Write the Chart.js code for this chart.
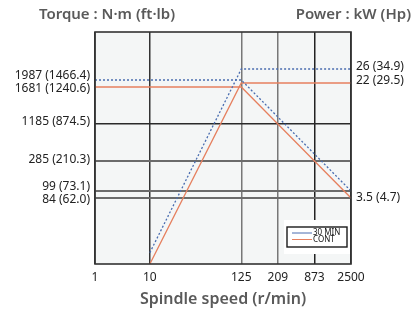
<!DOCTYPE html>
<html>
<head>
<meta charset="utf-8">
<script src="https://cdn.jsdelivr.net/npm/chart.js@4/dist/chart.umd.min.js"></script>
<style>
  html,body{margin:0;padding:0;background:#fff}
</style>
</head>
<body>
<canvas id="grafico" width="412" height="309"></canvas>
<script>
// rotacao do fuso (r/min)
const rotacoes = [1, 10, 125, 209, 873, 2500];
// torque: N·m e ft·lb
const torqueNm = [1987, 1681, 1185, 285, 99, 84];
const torqueFtLb = ['1466.4', '1240.6', '874.5', '210.3', '73.1', '62.0'];
// potencia: kW e Hp
const potenciaKw = [26, 22, 3.5];
const potenciaHp = ['34.9', '29.5', '4.7'];
// series [rpm, valor]
const torque30 = [[1, 1987], [125, 1987], [2500, 99]];
const potencia30 = [[10, 0.6], [125, 26], [2500, 26]];
const torqueCont = [[1, 1681], [125, 1681], [209, 1185], [873, 285], [2500, 84]];
const potenciaCont = [[10, 0], [125, 22], [2500, 22]];

// escala esquematica do desenho (nao e linear nem log)
const posX = [0, 3, 8, 10, 12, 14];
const nivelTorque = [184, 177, 140, 103, 73, 66];
const nivelPotencia = [195, 181, 66];
const rotuloTorque = [188, 175, 142, 104, 77, 64];
const rotuloPotencia = [197, 183, 66];

const FONTE = '"Noto Sans", sans-serif';
const AZUL = '#4a6db0';
const LARANJA = '#e6805f';

function interp(xs, ys, v){
  const pares = xs.map((x,i)=>[x, ys[i]]).sort((a,b)=>a[0]-b[0]);
  for(let i=0;i<pares.length-1;i++){
    const [x0,y0] = pares[i], [x1,y1] = pares[i+1];
    if(v>=x0 && v<=x1) return y0 + (y1-y0)*(v-x0)/(x1-x0);
  }
  return pares[pares.length-1][1];
}
const mapX = r => interp(rotacoes, posX, r);
const mapT = t => interp([0, ...torqueNm], [0, ...nivelTorque], t);
const mapP = p => interp([0, ...potenciaKw], [0, ...nivelPotencia], p);

const serie = (pts, fy) => pts.map(([r,v]) => ({x: mapX(r), y: fy(v)}));

const linha = (label, data, cor, tracejado) => ({
  label, data, borderColor: cor, backgroundColor: cor,
  borderWidth: 1.3, borderDash: tracejado ? [2,2] : [],
  pointRadius: 0, fill: false, tension: 0, yAxisID: 'yT'
});

const moldura = {
  id: 'moldura',
  beforeDraw(chart){
    const {ctx, chartArea:a} = chart;
    ctx.save();
    ctx.fillStyle = '#f4f6f6';
    ctx.fillRect(a.left, a.top, a.right-a.left, a.bottom-a.top);
    ctx.restore();
  },
  afterDatasetsDraw(chart){
    const {ctx, chartArea:a} = chart;
    ctx.save();
    // legenda
    const itens = [];
    chart.data.datasets.forEach(d=>{
      if(!itens.find(i=>i.label===d.label)) itens.push({label:d.label, cor:d.borderColor});
    });
    const w = 60, h = 20;
    const x = a.right - 4 - w, y = a.bottom - 17 - h;
    ctx.fillStyle = '#fff';
    ctx.fillRect(x-3, y-7, w+6, h+14);
    ctx.strokeStyle = '#1a1a1a';
    ctx.lineWidth = 1.4;
    ctx.strokeRect(x, y, w, h);
    ctx.font = '8px ' + FONTE;
    ctx.textBaseline = 'middle';
    itens.forEach((it,i)=>{
      const ly = y + 6 + i*6.5;
      ctx.strokeStyle = it.cor;
      ctx.lineWidth = 1;
      ctx.beginPath(); ctx.moveTo(x+5, ly); ctx.lineTo(x+25, ly); ctx.stroke();
      ctx.fillStyle = '#111';
      ctx.fillText(it.label, x+26, ly);
    });
    // borda da area
    ctx.strokeStyle = '#333';
    ctx.lineWidth = 1.6;
    ctx.strokeRect(a.left, a.top, a.right-a.left, a.bottom-a.top);
    ctx.restore();
  },
  afterDraw(chart){
    const {ctx} = chart;
    ctx.save();
    ctx.fillStyle = '#5a5a5a';
    ctx.font = '600 15px ' + FONTE;
    ctx.textBaseline = 'middle';
    ctx.textAlign = 'center';
    ctx.fillText('Torque : N·m (ft·lb)', 107, 15);
    ctx.textAlign = 'right';
    ctx.fillText('Power : kW (Hp)', 411, 15);
    ctx.restore();
  }
};

const corGradeX = ['#333', '#333', '#777', '#777', '#222', '#333'];

new Chart(document.getElementById('grafico'), {
  type: 'line',
  data: {
    datasets: [
      linha('30 MIN', serie(torque30, mapT), AZUL, true),
      linha('30 MIN', serie(potencia30, mapP), AZUL, true),
      linha('CONT', serie(torqueCont, mapT), LARANJA, false),
      linha('CONT', serie(potenciaCont, mapP), LARANJA, false)
    ]
  },
  options: {
    responsive: false,
    animation: false,
    layout: {padding: {top: 32, left: 0, right: 0, bottom: 0}},
    plugins: {legend: {display: false}, tooltip: {enabled: false}},
    scales: {
      x: {
        type: 'linear', min: 0, max: 14,
        afterBuildTicks: s => { s.ticks = posX.map(v=>({value:v})) },
        ticks: {autoSkip: false, maxRotation: 0, padding: 6, color: '#222',
                font: {family: FONTE, size: 12},
                callback: (v,i) => String(rotacoes[i])},
        grid: {drawTicks: false, lineWidth: 1.5, color: c => corGradeX[c.index] || '#333'},
        border: {display: false},
        title: {display: true, text: 'Spindle speed (r/min)', color: '#5a5a5a',
                font: {family: FONTE, size: 16, weight: '600'}, padding: {top: 1, bottom: 0}},
        afterFit: s => { s.height = 45 }
      },
      yT: {
        type: 'linear', position: 'left', min: 0, max: 232,
        afterBuildTicks: s => { s.ticks = rotuloTorque.map(v=>({value:v})) },
        ticks: {autoSkip: false, padding: 5, color: '#222', font: {family: FONTE, size: 12},
                callback: (v,i) => `${torqueNm[i]} (${torqueFtLb[i]})`},
        grid: {display: false, drawTicks: false},
        border: {display: false},
        afterFit: s => { s.width = 95 }
      },
      yG: {
        type: 'linear', position: 'left', min: 0, max: 232,
        afterBuildTicks: s => { s.ticks = nivelTorque.slice(2).map(v=>({value:v})) },
        ticks: {display: false},
        grid: {drawTicks: false,
               color: c => c.index === 0 ? '#2a2a2a' : '#6b6b6b',
               lineWidth: c => c.index === 0 ? 1.5 : 2},
        border: {display: false},
        afterFit: s => { s.width = 0 }
      },
      yP: {
        type: 'linear', position: 'right', min: 0, max: 232,
        afterBuildTicks: s => { s.ticks = rotuloPotencia.map(v=>({value:v})) },
        ticks: {autoSkip: false, padding: 5, color: '#222', font: {family: FONTE, size: 12},
                callback: (v,i) => `${potenciaKw[i]} (${potenciaHp[i]})`},
        grid: {display: false, drawTicks: false},
        border: {display: false},
        afterFit: s => { s.width = 61 }
      }
    }
  },
  plugins: [moldura]
});
</script>
</body>
</html>
